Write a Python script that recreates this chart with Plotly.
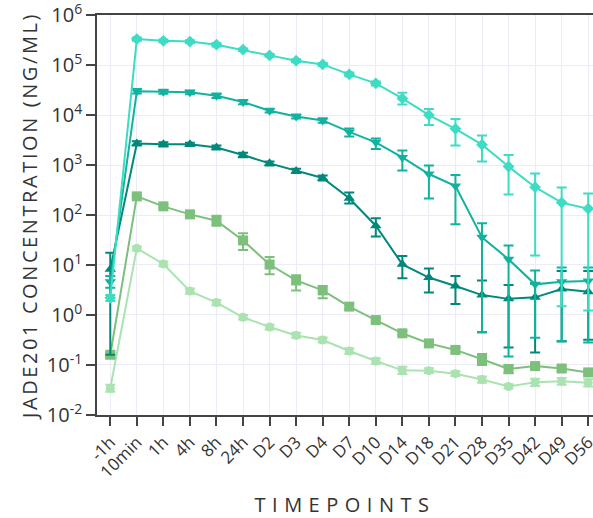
import plotly.graph_objects as go

timepoints = ["-1h", "10min", "1h", "4h", "8h", "24h", "D2", "D3", "D4", "D7",
              "D10", "D14", "D18", "D21", "D28", "D35", "D42", "D49", "D56"]

y_tick_vals = [1e-2, 1e-1, 1e0, 1e1, 1e2, 1e3, 1e4, 1e5, 1e6]
y_tick_text = ["10<sup>-2</sup>", "10<sup>-1</sup>", "10<sup>0</sup>", "10<sup>1</sup>",
               "10<sup>2</sup>", "10<sup>3</sup>", "10<sup>4</sup>", "10<sup>5</sup>",
               "10<sup>6</sup>"]

# Series 1 (diamond)
v1 = [2.2, 3.3e5, 3.05e5, 2.95e5, 2.55e5, 2.03e5, 1.56e5, 1.22e5, 1.03e5, 6.5e4, 4.3e4, 2.15e4, 1.0e4, 5.3e3, 2.55e3, 930, 360, 177, 134]
hi1 = [2.5, 3.55e5, 3.25e5, 3.15e5, 2.75e5, 2.15e5, 1.66e5, 1.3e5, 1.1e5, 7.1e4, 4.7e4, 2.8e4, 1.32e4, 8.3e3, 3.9e3, 1.58e3, 680, 355, 270]
lo1 = [1.9, 3.05e5, 2.85e5, 2.75e5, 2.35e5, 1.9e5, 1.46e5, 1.14e5, 9.6e4, 6.0e4, 3.9e4, 1.62e4, 6.3e3, 2.45e3, 1.17e3, 257, 15.5, 1.5, 1.23]

# Series 2 (triangle-down)
v2 = [4.6, 3.0e4, 2.93e4, 2.84e4, 2.44e4, 1.82e4, 1.22e4, 9.3e3, 7.8e3, 4.6e3, 2.85e3, 1.42e3, 660, 380, 35.7, 13, 4.1, 4.6, 4.8]
hi2 = [6.0, 3.3e4, 3.2e4, 3.1e4, 2.7e4, 2.0e4, 1.33e4, 1.02e4, 8.6e3, 5.4e3, 3.4e3, 1.95e3, 980, 630, 68, 24.5, 7.8, 8.9, 8.9]
lo2 = [3.5, 2.7e4, 2.65e4, 2.6e4, 2.2e4, 1.65e4, 1.12e4, 8.5e3, 7.0e3, 3.7e3, 2.1e3, 780, 215, 65, 0.45, 0.148, 0.35, 0.3, 0.28]

# Series 3 (triangle-up)
v3 = [8.2, 2.7e3, 2.6e3, 2.6e3, 2.23e3, 1.58e3, 1.08e3, 760, 550, 216, 61, 10.3, 5.6, 3.8, 2.5, 2.1, 2.25, 3.3, 2.9]
hi3 = [17.5, 3.0e3, 2.85e3, 2.8e3, 2.45e3, 1.75e3, 1.18e3, 840, 620, 282, 86, 15.1, 8.5, 6.0, 4.9, 4.0, 4.2, 7.6, 7.6]
lo3 = [0.16, 2.45e3, 2.35e3, 2.4e3, 2.05e3, 1.43e3, 980, 690, 490, 170, 37, 5.4, 2.8, 1.66, 0.45, 0.224, 0.178, 0.295, 0.32]

# Series 4 (square)
v4 = [0.16, 236, 149, 103, 77, 31, 10.2, 4.9, 3.1, 1.47, 0.79, 0.43, 0.27, 0.2, 0.13, 0.083, 0.095, 0.085, 0.071]
hi4 = [0.18, 250, 160, 115, 97, 43, 14.5, 6.2, 3.8, 1.65, 0.87, 0.47, 0.3, 0.225, 0.165, 0.1, 0.105, 0.095, 0.078]
lo4 = [0.14, 222, 139, 92, 61, 20, 6.5, 3.1, 2.15, 1.3, 0.72, 0.39, 0.245, 0.178, 0.1, 0.068, 0.085, 0.075, 0.064]

# Series 5 (circle)
v5 = [0.034, 21.5, 10.5, 3.0, 1.77, 0.9, 0.575, 0.39, 0.316, 0.19, 0.12, 0.078, 0.077, 0.067, 0.051, 0.037, 0.045, 0.047, 0.044]
hi5 = [0.04, 23.5, 11.8, 3.4, 2.0, 1.0, 0.64, 0.44, 0.355, 0.215, 0.136, 0.092, 0.086, 0.075, 0.059, 0.041, 0.053, 0.055, 0.052]
lo5 = [0.029, 19.5, 9.4, 2.65, 1.57, 0.81, 0.515, 0.35, 0.28, 0.168, 0.106, 0.066, 0.069, 0.06, 0.044, 0.034, 0.038, 0.04, 0.037]

series = [
    (v5, hi5, lo5, "circle", "#abe3b0", 9),
    (v4, hi4, lo4, "square", "#7cc07c", 10),
    (v3, hi3, lo3, "triangle-up", "#00897b", 10),
    (v2, hi2, lo2, "triangle-down", "#11b2a0", 10),
    (v1, hi1, lo1, "diamond", "#3ddcc4", 9),
]

fig = go.Figure()
for v, hi, lo, sym, col, sz in series:
    fig.add_trace(go.Scatter(
        x=timepoints, y=v, mode="lines+markers",
        line=dict(color=col, width=2),
        marker=dict(symbol=sym, size=sz, color=col),
        error_y=dict(type="data", symmetric=False,
                     array=[h - a for h, a in zip(hi, v)],
                     arrayminus=[a - l for a, l in zip(v, lo)],
                     color=col, thickness=2, width=5),
        showlegend=False,
    ))

font_family = "Open Sans, sans-serif"
fig.update_layout(
    width=593, height=518,
    margin=dict(l=97, r=0, t=15, b=103),
    paper_bgcolor="white", plot_bgcolor="white",
    font=dict(family=font_family, color="#333"),
    xaxis=dict(
        type="category", range=[-0.5, 18.18],
        showgrid=True, gridcolor="#ececf6", gridwidth=1,
        showline=True, linecolor="#444", linewidth=1.5, mirror=True,
        ticks="outside", ticklen=9, tickcolor="#444", tickwidth=1.5,
        tickangle=-45, tickfont=dict(size=17, color="#333"),
        ticklabeloverflow="allow",
        title=dict(text="TIMEPOINTS", font=dict(size=20, color="#333"), standoff=22),
        automargin=False,
    ),
    yaxis=dict(
        type="log", range=[-2.001, 6.001],
        tickmode="array", tickvals=y_tick_vals, ticktext=y_tick_text,
        ticklabeloverflow="allow",
        showgrid=True, gridcolor="#ececf6", gridwidth=1,
        showline=True, linecolor="#444", linewidth=1.5, zeroline=False,
        ticks="outside", ticklen=9, tickcolor="#444", tickwidth=1.5,
        tickfont=dict(size=20, color="#333"),
        title=dict(text="JADE201 CONCENTRATION (NG/ML)",
                   font=dict(size=20, color="#333", weight=500), standoff=4),
        automargin=False,
    ),
)

js = """
var gd = document.getElementById('{plot_id}');
function ls(){
  var x = gd.querySelector('.g-xtitle text'); if (x) x.style.letterSpacing = '6.5px';
  var y = gd.querySelector('.g-ytitle text'); if (y) y.style.letterSpacing = '2.6px';
}
ls();
if (gd.on) gd.on('plotly_afterplot', ls);
"""
fig.write_html("out.html", post_script=js)
